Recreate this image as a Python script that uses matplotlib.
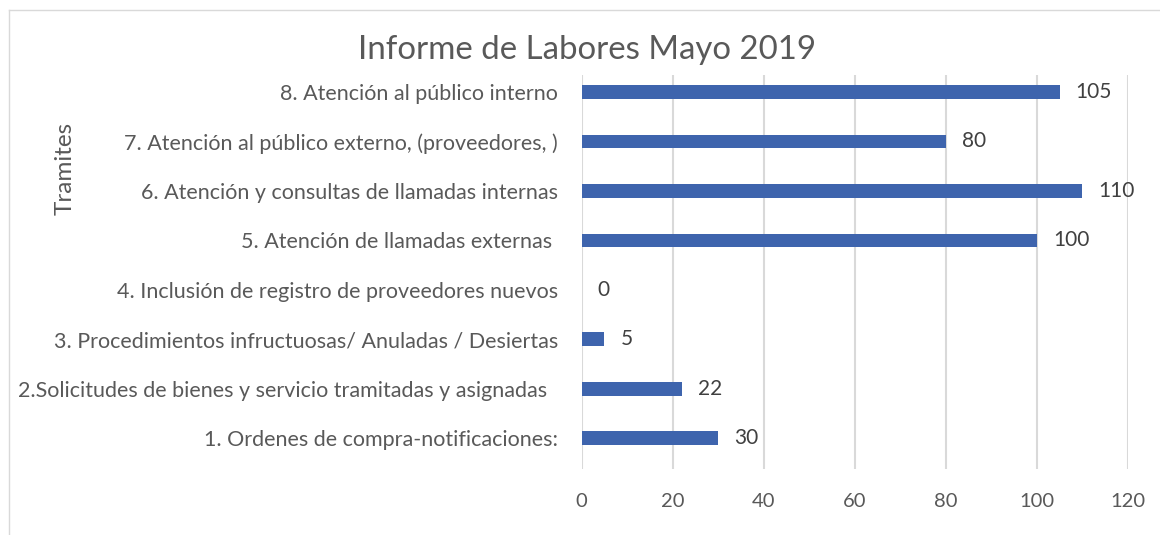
import numpy as np
import matplotlib
matplotlib.use("Agg")
import matplotlib.pyplot as plt
from matplotlib.lines import Line2D

plt.rcParams['font.family'] = ['Lato', 'DejaVu Sans']

# datos del informe (de abajo hacia arriba)
tramites = [
    "1. Ordenes de compra-notificaciones:",
    "2.Solicitudes de bienes y servicio tramitadas y asignadas  ",
    "3. Procedimientos infructuosas/ Anuladas / Desiertas",
    "4. Inclusión de registro de proveedores nuevos",
    "5. Atención de llamadas externas ",
    "6. Atención y consultas de llamadas internas",
    "7. Atención al público externo, (proveedores, )",
    "8. Atención al público interno",
]
cantidades = [30, 22, 5, 0, 100, 110, 80, 105]
ticks_x = [0, 20, 40, 60, 80, 100, 120]

azul = '#3E64AD'
gris_texto = '#595959'
W, H = 1160, 535

fig = plt.figure(figsize=(W / 100, H / 100), dpi=100)
ax = fig.add_axes([581.7 / W, 1 - 469 / H, (1128 - 581.7) / W, (469 - 75) / H])

pos = np.arange(len(tramites))
ax.barh(pos, cantidades, height=0.28, color=azul, zorder=3)

for p, v in zip(pos, cantidades):
    ax.text(v + 3.5, p, str(v), va='center', ha='left', fontsize=15, color='#404040')

ax.set_xlim(0, 120)
ax.set_ylim(-0.62, 7.344)
ax.set_xticks(ticks_x)
ax.set_yticks(pos)
ax.set_yticklabels(tramites)
ax.tick_params(axis='y', length=0, pad=17, labelsize=15.5, labelcolor=gris_texto)
ax.tick_params(axis='x', length=0, pad=17, labelsize=14.5, labelcolor=gris_texto)
ax.grid(axis='x', color='#d9d9d9', linewidth=1.5, zorder=0)
for s in ax.spines.values():
    s.set_visible(False)

fig.text(587 / W, 1 - 50 / H, "Informe de Labores Mayo 2019", ha='center', va='center',
         fontsize=23.8, color=gris_texto)
fig.text(65 / W, 1 - 168 / H, "Tramites", rotation=90, ha='center', va='center',
         fontsize=17.5, color=gris_texto)

# marco del gráfico
fig.add_artist(Line2D([8.5 / W, 8.5 / W], [0, 1 - 9.5 / H], transform=fig.transFigure,
                      color='#d9d9d9', linewidth=1))
fig.add_artist(Line2D([8.5 / W, 1], [1 - 9.5 / H, 1 - 9.5 / H], transform=fig.transFigure,
                      color='#d9d9d9', linewidth=1))

fig.savefig('out.png', dpi=100)
